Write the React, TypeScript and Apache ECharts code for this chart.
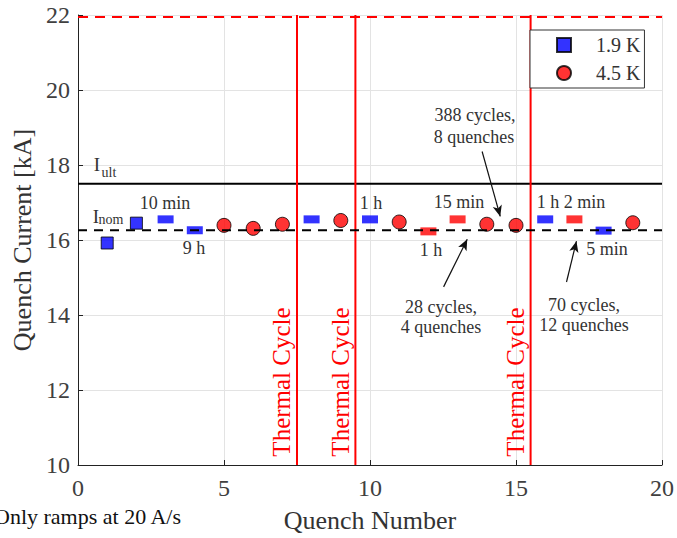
import React, { useEffect, useRef } from "react";
import * as echarts from "echarts";

// ---- data ----
const quench19K: number[] = [1, 2];
const current19K: number[] = [15.92, 16.45];
const quench45K: number[] = [5, 6, 7, 9, 11, 14, 15, 19];
const current45K: number[] = [16.39, 16.31, 16.42, 16.52, 16.48, 16.42, 16.39, 16.46];
const rampQuench19K: number[] = [3, 4, 8, 10, 16, 18];
const rampCurrent19K: number[] = [16.55, 16.26, 16.55, 16.55, 16.55, 16.25];
const rampQuench45K: number[] = [12, 13, 17];
const rampCurrent45K: number[] = [16.23, 16.55, 16.55];
const iUlt = 17.5;
const iNom = 16.26;
const iShortSample = 21.95;
const thermalCycles: number[] = [7.5, 9.5, 15.5];
const xTicks = { min: 0, max: 20, interval: 5 };
const yTicks = { min: 10, max: 22, interval: 2 };
// arrows: [from x, from y, to x, to y] in data units
const arrows: number[][] = [
  [13.84, 18.36, 14.46, 16.63],
  [12.52, 14.75, 13.33, 16.02],
  [16.73, 14.88, 17.07, 15.97],
];

const FONT = "Liberation Serif, Times New Roman, serif";

const zip = (xs: number[], ys: number[]) => xs.map((x, i) => [x, ys[i]]);

export default function App() {
  const ref = useRef<HTMLDivElement>(null);
  useEffect(() => {
    if (!ref.current) return;
    const chart = echarts.init(ref.current, undefined, { renderer: "svg" });
    const annText = (text: string, x: number, y: number, size = 18, extra: any = {}) => ({
      type: "text",
      x,
      y,
      z: 100,
      style: {
        text,
        fontFamily: FONT,
        fontSize: size,
        fill: "#333",
        textAlign: "center",
        textVerticalAlign: "middle",
        ...extra,
      },
    });
    const thermal = (x: number, y: number) => ({
      type: "text",
      x,
      y,
      rotation: Math.PI / 2,
      z: 100,
      style: {
        text: "Thermal Cycle",
        fontFamily: FONT,
        fontSize: 25,
        fill: "#ff0000",
        textAlign: "center",
        textVerticalAlign: "middle",
      },
    });
    const option: any = {
      animation: false,
      backgroundColor: "#fff",
      grid: { left: 78, right: 13, top: 15, bottom: 71, containLabel: false },
      legend: {
        data: ["1.9 K", "4.5 K"],
        orient: "vertical",
        left: 530,
        top: 30,
        padding: [5, 4, 5, 26],
        itemGap: 8,
        itemWidth: 14,
        itemHeight: 14,
        backgroundColor: "#fff",
        borderColor: "#333",
        borderWidth: 1,
        borderRadius: 0,
        textStyle: { fontFamily: FONT, fontSize: 20, color: "#333", padding: [0, 0, 0, 20] },
        z: 50,
      },
      xAxis: {
        type: "value",
        min: xTicks.min,
        max: xTicks.max,
        interval: xTicks.interval,
        name: "Quench Number",
        nameLocation: "middle",
        nameGap: 42,
        nameTextStyle: { fontFamily: FONT, fontSize: 26, color: "#333" },
        axisLine: { lineStyle: { color: "#222", width: 1 } },
        axisTick: { inside: true, length: 5, lineStyle: { color: "#222" } },
        axisLabel: { fontFamily: FONT, fontSize: 24, color: "#404040", margin: 11 },
        splitLine: { show: true, lineStyle: { color: "#e3e3e3", width: 1 } },
      },
      yAxis: {
        type: "value",
        min: yTicks.min,
        max: yTicks.max,
        interval: yTicks.interval,
        name: "Quench Current [kA]",
        nameLocation: "middle",
        nameGap: 43,
        nameTextStyle: { fontFamily: FONT, fontSize: 26, color: "#333" },
        axisLine: { show: true, lineStyle: { color: "#222", width: 1 } },
        axisTick: { show: true, inside: true, length: 5, lineStyle: { color: "#222" } },
        axisLabel: { fontFamily: FONT, fontSize: 24, color: "#404040", margin: 8 },
        splitLine: { show: true, lineStyle: { color: "#e3e3e3", width: 1 } },
      },
      series: [
        {
          name: "Iult",
          type: "line",
          data: [[xTicks.min, iUlt], [xTicks.max, iUlt]],
          symbol: "none",
          lineStyle: { color: "#000", width: 2.2 },
          z: 3,
          silent: true,
        },
        {
          name: "short sample",
          type: "line",
          data: [[xTicks.min, iShortSample], [xTicks.max, iShortSample]],
          symbol: "none",
          lineStyle: { color: "#ff0000", width: 2, type: [10, 7] },
          z: 3,
          silent: true,
        },
        ...thermalCycles.map((tc, i) => ({
          name: "tc" + i,
          type: "line",
          data: [[tc, yTicks.min], [tc, yTicks.max]],
          symbol: "none",
          lineStyle: { color: "#ff0000", width: 2 },
          z: 3,
          silent: true,
        })),
        {
          name: "ramp19",
          type: "scatter",
          data: zip(rampQuench19K, rampCurrent19K),
          symbol: "rect",
          symbolSize: [16, 8],
          itemStyle: { color: "#0000ff" },
          z: 5,
        },
        {
          name: "ramp45",
          type: "scatter",
          data: zip(rampQuench45K, rampCurrent45K),
          symbol: "rect",
          symbolSize: [16, 8],
          itemStyle: { color: "#ff0000" },
          z: 5,
        },
        {
          name: "1.9 K",
          type: "scatter",
          data: zip(quench19K, current19K),
          symbol: "rect",
          symbolSize: 12,
          itemStyle: { color: "#0000ff", borderColor: "#000", borderWidth: 1 },
          z: 5,
        },
        {
          name: "4.5 K",
          type: "scatter",
          data: zip(quench45K, current45K),
          symbol: "circle",
          symbolSize: 14,
          itemStyle: { color: "#ff0000", borderColor: "#000", borderWidth: 1 },
          z: 5,
        },
        {
          name: "Inom",
          type: "line",
          data: [[xTicks.min, iNom], [xTicks.max, iNom]],
          symbol: "none",
          lineStyle: { color: "#000", width: 2.2, type: [9, 7] },
          z: 8,
          silent: true,
        },
        {
          name: "arrows",
          type: "line",
          data: [],
          z: 9,
          silent: true,
          markLine: {
            silent: true,
            symbol: ["none", "arrow"],
            symbolSize: [7, 11],
            label: { show: false },
            lineStyle: { color: "#111", width: 1.2, type: "solid" },
            data: arrows.map((a) => [{ coord: [a[0], a[1]] }, { coord: [a[2], a[3]] }]),
          },
        },
      ],
      graphic: [
        annText("I", 97, 164, 19),
        annText("ult", 109, 172, 14),
        annText("I", 96, 216, 19),
        annText("nom", 111, 219, 14),
        annText("10 min", 165, 203),
        annText("9 h", 194, 248),
        annText("1 h", 371, 203),
        annText("15 min", 459, 202),
        annText("1 h", 431, 250),
        annText("388 cycles,", 475, 115),
        annText("8 quenches", 474, 137),
        annText("1 h 2 min", 571, 202),
        annText("5 min", 607, 249),
        annText("28 cycles,", 441, 307),
        annText("4 quenches", 441, 327),
        annText("70 cycles,", 584, 305),
        annText("12 quenches", 584, 325),
        thermal(281, 382),
        thermal(340, 382),
        thermal(515, 382),
        {
          type: "text",
          x: -6,
          y: 516,
          z: 100,
          style: {
            text: "Only ramps at 20 A/s",
            fontFamily: FONT,
            fontSize: 22,
            fill: "#111",
            textAlign: "left",
            textVerticalAlign: "middle",
          },
        },
      ],
    };
    chart.setOption(option);
    return () => chart.dispose();
  }, []);
  return (
    <div
      ref={ref}
      style={{ position: "fixed", left: 0, top: 0, width: 677, height: 538, background: "#fff" }}
    />
  );
}
